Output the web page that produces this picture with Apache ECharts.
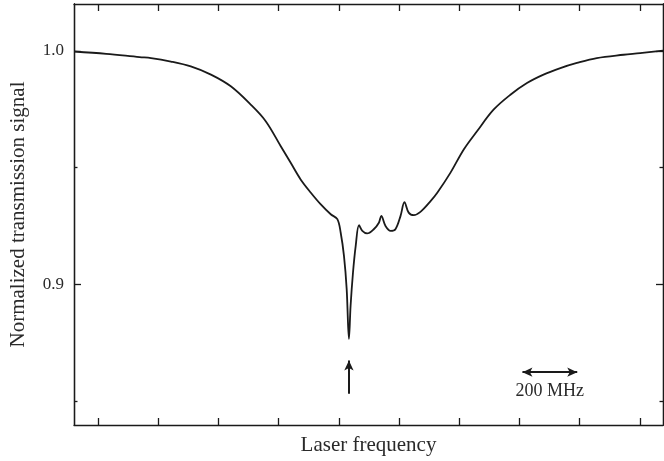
<!DOCTYPE html>
<html>
<head>
<meta charset="utf-8">
<script src="https://cdn.jsdelivr.net/npm/echarts@6/dist/echarts.min.js"></script>
<style>
  html, body { margin: 0; padding: 0; background: #fff; }
  #chart { width: 664px; height: 461px; }
</style>
</head>
<body>
<div id="chart"></div>
<script>
// frequency offset (MHz, arbitrary zero) and normalized transmission
const freq = [
  -80, 27, 138, 176, 242, 308, 375, 441, 507, 557, 607, 640, 673, 707, 740, 773, 795,
  806, 817, 826, 833.5, 839, 847, 856, 867, 878, 894, 916, 933, 941, 955, 972, 988,
  1005, 1018, 1032, 1049, 1071, 1104, 1127, 1171, 1215, 1259, 1314, 1370, 1425,
  1480, 1536, 1591, 1657, 1746, 1801, 1877
]
const signal = [
  0.9997, 0.9987, 0.9973, 0.9969, 0.9954, 0.9933, 0.9898, 0.9848, 0.9770, 0.9699,
  0.9592, 0.9521, 0.9450, 0.9393, 0.9343, 0.9301, 0.9280,
  0.9223, 0.9123, 0.8981, 0.8768, 0.8910, 0.9052, 0.9166, 0.9254, 0.9230, 0.9219,
  0.9237, 0.9265, 0.9294, 0.9251, 0.9230, 0.9237,
  0.9294, 0.9353, 0.9308, 0.9297, 0.9311, 0.9356, 0.9393, 0.9479, 0.9578, 0.9656,
  0.9748, 0.9812, 0.9862, 0.9898, 0.9926, 0.9948, 0.9969, 0.9983, 0.9990, 1.0001
]

const xTicks = [0, 200, 400, 600, 800, 1000, 1200, 1400, 1600, 1800]
const yMajor = [0.9, 1.0]
const yMinor = [0.85, 0.95]

// annotations: arrow under the dip, 200 MHz scale bar
const dipArrow = { x: 833.5, from: 0.8534, to: 0.8676 }
const scaleBar = { from: 1410, to: 1592, y: 0.8626, label: '200 MHz' }

const ink = '#1a1a1a'
const font = '"Liberation Serif", "Times New Roman", serif'

const chart = echarts.init(document.getElementById('chart'))

const yBase = (position, ticks, len, withLabel) => ({
  type: 'value',
  position,
  min: 0.84,
  max: 1.02,
  axisLine: { show: true, onZero: false, lineStyle: { color: ink, width: 1.3 } },
  axisTick: { show: true, inside: true, length: len, customValues: ticks, lineStyle: { color: ink, width: 1.3 } },
  axisLabel: withLabel
    ? {
        show: true,
        customValues: ticks,
        margin: 10,
        formatter: (v) => v.toFixed(1),
        color: '#2a2a2a',
        fontSize: 17,
        fontFamily: font,
      }
    : { show: false },
  splitLine: { show: false },
})

const xBase = (position) => ({
  type: 'value',
  position,
  min: -80,
  max: 1877,
  axisLine: { show: true, onZero: false, lineStyle: { color: ink, width: 1.3 } },
  axisTick: { show: true, inside: true, length: 7, customValues: xTicks, lineStyle: { color: ink, width: 1.3 } },
  axisLabel: { show: false },
  splitLine: { show: false },
})

chart.setOption({
  animation: false,
  backgroundColor: '#fff',
  grid: { left: 73, right: 1, top: 4, bottom: 34 },
  xAxis: [
    {
      ...xBase('bottom'),
      name: 'Laser frequency',
      nameLocation: 'middle',
      nameGap: 10,
      nameTextStyle: { color: '#2a2a2a', fontSize: 21, fontFamily: font },
    },
    xBase('top'),
  ],
  yAxis: [
    {
      ...yBase('left', yMajor, 7, true),
      name: 'Normalized transmission signal',
      nameLocation: 'middle',
      nameGap: 45,
      nameTextStyle: { color: '#2a2a2a', fontSize: 21, fontFamily: font },
    },
    yBase('left', yMinor, 3.5, false),
    yBase('right', yMajor, 7, false),
    yBase('right', yMinor, 3.5, false),
  ],
  series: [
    {
      type: 'line',
      data: freq.map((f, i) => [f, signal[i]]),
      symbol: 'none',
      smooth: 0.35,
      lineStyle: { color: ink, width: 1.8 },
      markLine: {
        silent: true,
        animation: false,
        lineStyle: { color: ink, width: 2, type: 'solid' },
        label: { show: false },
        data: [
          [
            { coord: [dipArrow.x, dipArrow.from], symbol: 'none' },
            { coord: [dipArrow.x, dipArrow.to], symbol: 'arrow', symbolSize: [7, 10] },
          ],
          [
            {
              coord: [scaleBar.from, scaleBar.y],
              symbol: 'arrow',
              symbolSize: [7, 10],
              label: {
                show: true,
                position: 'insideMiddleBottom',
                distance: 10,
                formatter: scaleBar.label,
                color: '#2a2a2a',
                fontSize: 18,
                fontFamily: font,
              },
            },
            { coord: [scaleBar.to, scaleBar.y], symbol: 'arrow', symbolSize: [7, 10] },
          ],
        ],
      },
    },
  ],
})
</script>
</body>
</html>
